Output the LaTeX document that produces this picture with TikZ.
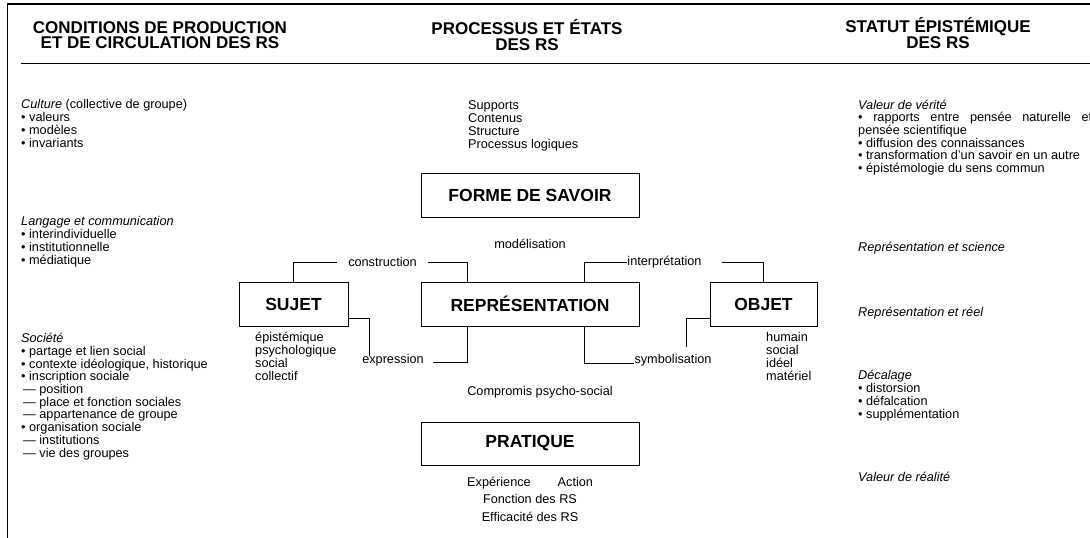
\documentclass[tikz,border=0pt]{standalone}
\usepackage{fontspec}
\setmainfont{Liberation Sans}
\setlength{\parindent}{0pt}
\begin{document}
\begin{tikzpicture}[x=1pt,y=-1pt,
  box/.style={draw,line width=0.9pt,minimum width=218pt,minimum height=44pt,inner sep=0pt,
    font=\fontsize{17.5}{18}\selectfont\bfseries},
  head/.style={align=center,inner sep=0pt,font=\fontsize{17}{15.5}\selectfont\bfseries},
  txt/.style={align=left,anchor=base west,inner sep=0pt,font=\fontsize{12.7}{12.7}\selectfont},
  lbl/.style={inner sep=0pt,font=\fontsize{12.7}{12.7}\selectfont},
  link/.style={line width=0.8pt}]
\useasboundingbox (0,0) rectangle (1090,538);
% cadre et titres
\draw[line width=1.6pt] (7.5,538) |- (1090,4);
\draw[line width=1pt] (21,63) -- (1090,63);
\node[head] (hcond) at (160,35) {CONDITIONS DE PRODUCTION\\ET DE CIRCULATION DES RS};
\node[head] (hproc) at (527,35) {PROCESSUS ET ÉTATS\\DES RS};
\node[head] (hstat) at (938,33) {STATUT ÉPISTÉMIQUE\\DES RS};

% colonne de gauche (base = derniere ligne)
\node[txt] (culture) at (21,147) {\textit{Culture} (collective de groupe)\\• valeurs\\• modèles\\• invariants};
\node[txt] (langage) at (21,264) {\textit{Langage et communication}\\• interindividuelle\\• institutionnelle\\• médiatique};
\node[txt] (societe) at (21,457) {\textit{Société}\\• partage et lien social\\• contexte idéologique, historique\\• inscription sociale\\
  \hspace*{2pt}— position\\\hspace*{2pt}— place et fonction sociales\\\hspace*{2pt}— appartenance de groupe\\
  • organisation sociale\\\hspace*{2pt}— institutions\\\hspace*{2pt}— vie des groupes};

% colonne du milieu
\node[txt] (forme) at (468,148) {Supports\\Contenus\\Structure\\Processus logiques};
\node[box] (fs) at (530,195) {FORME DE SAVOIR};
\node[lbl] (model) at (530,244) {modélisation};
\node[box] (rep) at (530,304) {REPRÉSENTATION};
\node[box,minimum width=109pt] (suj) at (293.5,304) {SUJET};
\node[box,minimum width=107pt] (obj) at (763.5,304) {OBJET};
\node[lbl] (constr) at (382.5,262) {construction};
\node[lbl] (interp) at (664.5,262) {interprétation};
\node[lbl] (expr) at (393,360) {expression};
\node[lbl] (symb) at (673,360) {symbolisation};
\node[txt] (sujtypes) at (255,380) {épistémique\\psychologique\\social\\collectif};
\node[txt] (objtypes) at (766,380) {humain\\social\\idéel\\matériel};
\node[lbl] (compr) at (540,392) {Compromis psycho-social};
\node[box,minimum height=43pt] (prat) at (530,443.5) {PRATIQUE};
\node[txt] (exper) at (467,486) {Expérience\hspace{27pt}Action};
\node[lbl] (fonct) at (530,499) {Fonction des RS};
\node[lbl] (effic) at (530,517) {Efficacité des RS};

\draw[link] (suj.north) |- ([xshift=-11pt]constr.west);
\draw[link] ([xshift=11pt]constr.east) -| ([xshift=47pt]rep.north west);
\draw[link] ([xshift=-55pt]rep.north east) |- (interp.west);
\draw[link] ([xshift=20pt]interp.east) -| (obj.north);
\draw[link] ([yshift=8pt]suj.south east) -| ([xshift=7pt,yshift=-2pt]expr.north west);
\draw[link] ([xshift=9pt,yshift=-2pt]expr.east) -| ([xshift=47pt]rep.south west);
\draw[link] ([xshift=-55pt]rep.south east) |- ([yshift=-3pt]symb.west);
\draw[link] ([yshift=8pt]obj.south west) -| ([xshift=13pt,yshift=7pt]symb.north);

% colonne de droite
\node[txt,text width=234pt,align=justify] (verite) at (858,109) {\hyphenpenalty=10000 \tolerance=10000
  \textit{Valeur de vérité}\par
  • rapports entre pensée naturelle et pensée scientifique\par
  • diffusion des connaissances\par
  • transformation d'un savoir en un autre\par
  • épistémologie du sens commun\par};
\node[txt] (science) at (858,251) {\textit{Représentation et science}};
\node[txt] (reel) at (858,316) {\textit{Représentation et réel}};
\node[txt] (decal) at (858,418) {\textit{Décalage}\\• distorsion\\• défalcation\\• supplémentation};
\node[txt] (realite) at (858,481) {\textit{Valeur de réalité}};
\end{tikzpicture}
\end{document}
